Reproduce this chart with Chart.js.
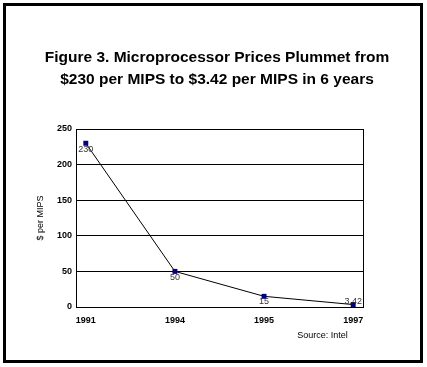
<!DOCTYPE html>
<html>
<head>
<meta charset="utf-8">
<script src="https://cdn.jsdelivr.net/npm/chart.js@4"></script>
<style>
html,body{margin:0;padding:0;background:#fff;}
canvas{display:block;}
</style>
</head>
<body>
<canvas id="c" width="427" height="367"></canvas>
<script>
const years = ['1991', '1994', '1995', '1997'];
const pricePerMips = [230, 50, 15, 3.42];
const pointLabels = ['230', '50', '15', '3.42'];
const yTickValues = [0, 50, 100, 150, 200, 250];
const titleLines = ['Figure 3. Microprocessor Prices Plummet from', '$230 per MIPS to $3.42 per MIPS in 6 years'];
const yAxisTitle = '$ per MIPS';
const sourceNote = 'Source: Intel';

const FONT = "'Liberation Sans', Arial, Helvetica, sans-serif";

const decor = {
  id: 'decor',
  beforeDraw(chart) {
    const ctx = chart.ctx;
    ctx.save();
    ctx.fillStyle = '#fff';
    ctx.fillRect(0, 0, chart.width, chart.height);
    ctx.strokeStyle = '#000';
    ctx.lineWidth = 3;
    ctx.strokeRect(4.5, 4.5, 417, 357);
    ctx.restore();
  },
  afterDraw(chart) {
    const ctx = chart.ctx;
    const a = chart.chartArea;
    ctx.save();
    ctx.strokeStyle = '#000';
    ctx.lineWidth = 1;
    ctx.strokeRect(Math.round(a.left) + 0.5, Math.round(a.top) + 0.5, Math.round(a.right - a.left), Math.round(a.bottom - a.top));
    ctx.fillStyle = '#000';
    ctx.font = 'bold 15.5px ' + FONT;
    ctx.textAlign = 'center';
    ctx.textBaseline = 'middle';
    ctx.fillText(titleLines[0], 217, 57.5);
    ctx.fillText(titleLines[1], 217, 79.5);
    ctx.font = '9px ' + FONT;
    ctx.save();
    ctx.translate(40.5, (a.top + a.bottom) / 2);
    ctx.rotate(-Math.PI / 2);
    ctx.fillText(yAxisTitle, 0, 0);
    ctx.restore();
    ctx.font = '9px ' + FONT;
    ctx.fillText(sourceNote, 322.5, 336);
    ctx.restore();
  },
  afterDatasetsDraw(chart) {
    const ctx = chart.ctx;
    const a = chart.chartArea;
    const meta = chart.getDatasetMeta(0);
    ctx.save();
    ctx.font = '9px ' + FONT;
    ctx.fillStyle = '#333';
    ctx.textAlign = 'center';
    ctx.textBaseline = 'top';
    meta.data.forEach((pt, i) => {
      let top = pt.y + 2;
      const h = 10;
      if (top + h > a.bottom) top = a.bottom - h;
      ctx.fillText(pointLabels[i], pt.x, top);
    });
    ctx.restore();
  }
};

new Chart(document.getElementById('c'), {
  type: 'line',
  data: {
    datasets: [{
      data: years.map((_, i) => ({ x: i, y: pricePerMips[i] })),
      borderColor: '#000',
      borderWidth: 1,
      tension: 0,
      pointStyle: 'rect',
      pointRadius: 3.5,
      pointBackgroundColor: '#000080',
      pointBorderColor: '#000080',
      pointBorderWidth: 0,
      clip: false
    }]
  },
  options: {
    responsive: false,
    animation: false,
    devicePixelRatio: 1,
    layout: { padding: { top: 129, right: 64, left: 0, bottom: 0 } },
    plugins: { legend: { display: false }, title: { display: false }, tooltip: { enabled: false } },
    scales: {
      x: {
        type: 'linear',
        min: -0.11,
        max: 3.11,
        afterBuildTicks(scale) { scale.ticks = years.map((_, i) => ({ value: i })); },
        afterFit(scale) { scale.height = 60; },
        grid: { display: false, drawTicks: false },
        border: { display: false },
        ticks: {
          padding: 8,
          maxRotation: 0,
          autoSkip: false,
          color: '#000',
          font: { family: FONT, size: 9, weight: 'bold' },
          callback: (v) => years[v]
        }
      },
      y: {
        min: 0,
        max: 250,
        afterBuildTicks(scale) { scale.ticks = yTickValues.map(v => ({ value: v })); },
        afterFit(scale) { scale.width = 76; },
        grid: { color: '#000', lineWidth: 1, drawTicks: false },
        border: { display: false },
        ticks: {
          padding: 4,
          color: '#000',
          font: { family: FONT, size: 9, weight: 'bold' }
        }
      }
    }
  },
  plugins: [decor]
});
</script>
</body>
</html>
